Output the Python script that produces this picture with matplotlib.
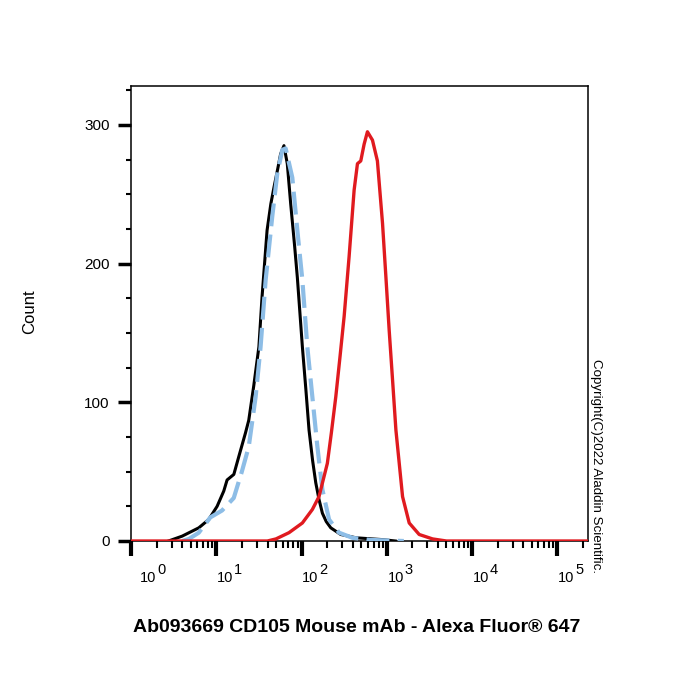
import numpy as np
import matplotlib.pyplot as plt
from matplotlib.ticker import FixedLocator, LogLocator, NullFormatter

plt.rcParams["font.family"] = ["Liberation Sans", "DejaVu Sans"]

# Histogramas (x en decadas log10, y en cuentas)
negro_log = [0.44, 0.60, 0.795, 0.912, 1.01, 1.088, 1.127, 1.206, 1.265, 1.343, 1.381,
             1.44, 1.50, 1.537, 1.596, 1.64, 1.677, 1.72, 1.755, 1.794, 1.833, 1.873,
             1.92, 1.951, 2.01, 2.05, 2.088, 2.13, 2.167, 2.205, 2.245, 2.29, 2.343,
             2.46, 2.64, 2.95, 3.1]
negro_cnt = [0, 3.5, 9.5, 15.5, 25, 36, 44, 48, 61, 78, 87,
             112, 140, 176, 224, 243, 255, 268, 279, 285, 272, 243,
             212, 190, 140, 110, 80, 58, 42, 30, 20, 14, 9.5,
             4.7, 2.3, 1, 0]

azul_log = [0.60, 0.68, 0.795, 0.93, 1.068, 1.205, 1.30, 1.381, 1.462, 1.52, 1.579,
            1.657, 1.716, 1.775, 1.814, 1.892, 1.951, 2.01, 2.068, 2.127, 2.186, 2.245,
            2.323, 2.44, 2.597, 2.8, 3.2]
azul_cnt = [0, 1.5, 6, 17, 22, 31, 50, 68, 104, 140, 188,
            234, 265, 282, 283, 262, 224, 188, 140, 104, 68, 37,
            15.5, 6, 2.3, 0.8, 0]

rojo_log = [0.0, 1.60, 1.70, 1.853, 2.01, 2.127, 2.205, 2.303, 2.35, 2.402, 2.45, 2.5,
            2.558, 2.617, 2.656, 2.695, 2.734, 2.773, 2.832, 2.89, 2.95, 2.99, 3.028,
            3.07, 3.107, 3.185, 3.263, 3.38, 3.537, 3.7, 5.36]
rojo_cnt = [0, 0, 1.5, 6, 13, 22.7, 32, 56, 78, 104, 132, 162,
            205, 253, 272, 274, 286, 295, 289, 274, 229, 190, 152,
            114, 80, 32, 13, 4.7, 1.5, 0, 0]

decadas = [0, 1, 2, 3, 4, 5]
yticks = [0, 100, 200, 300]

fig = plt.figure(figsize=(7, 7), dpi=100)
ax = fig.add_axes([131 / 700, 1 - 541 / 700, 457 / 700, 455 / 700])

ax.plot(10 ** np.array(negro_log), negro_cnt, color="black", lw=2.2, zorder=3)
ax.plot(10 ** np.array(azul_log), azul_cnt, color="#8dbde6", lw=3, dashes=(5.5, 2), zorder=4)
ax.plot(10 ** np.array(rojo_log), rojo_cnt, color="#e01a1f", lw=2.4, zorder=5)

ax.set_xscale("log")
ax.set_xlim(1, 10 ** 5.36)
ax.set_ylim(0, 328)

# Ejes y marcas
for s in ax.spines.values():
    s.set_linewidth(1.1)
ax.xaxis.set_major_locator(FixedLocator([10 ** d for d in decadas]))
ax.xaxis.set_minor_locator(LogLocator(base=10, subs=np.arange(2, 10)))
ax.xaxis.set_major_formatter(NullFormatter())
ax.xaxis.set_minor_formatter(NullFormatter())
ax.tick_params(axis="x", which="major", direction="out", length=10.5, width=3)
ax.tick_params(axis="x", which="minor", direction="out", length=5, width=1.5)

ax.set_yticks(yticks)
ax.set_yticks(np.arange(25, 328, 25), minor=True)
ax.tick_params(axis="y", which="major", direction="out", length=9.5, width=2.5,
               labelsize=11, pad=6)
ax.tick_params(axis="y", which="minor", direction="out", length=3.6, width=1.5)

# Etiquetas 10^n a mano
for d in decadas:
    dx = 6.5 if d == 0 else 0.5
    ax.annotate("10", xy=(10 ** d, 0), xycoords=("data", "axes fraction"),
                xytext=(dx, -29.5), textcoords="offset points",
                ha="left", va="baseline", fontsize=10.5)
    ax.annotate(str(d), xy=(10 ** d, 0), xycoords=("data", "axes fraction"),
                xytext=(dx + 12.5, -23.5), textcoords="offset points",
                ha="left", va="baseline", fontsize=10.5)

fig.text(30 / 700, 1 - 312 / 700, "Count", rotation=90, ha="center", va="center",
         fontsize=12)
fig.text(357 / 700, 1 - 627 / 700, "Ab093669 CD105 Mouse mAb - Alexa Fluor® 647",
         ha="center", va="center", fontsize=14, fontweight="bold")
fig.text(596 / 700, 1 - 466 / 700, "Copyright(C)2022 Aladdin Scientific.",
         rotation=270, ha="center", va="center", fontsize=9.6)

fig.savefig("out.png", dpi=100)
